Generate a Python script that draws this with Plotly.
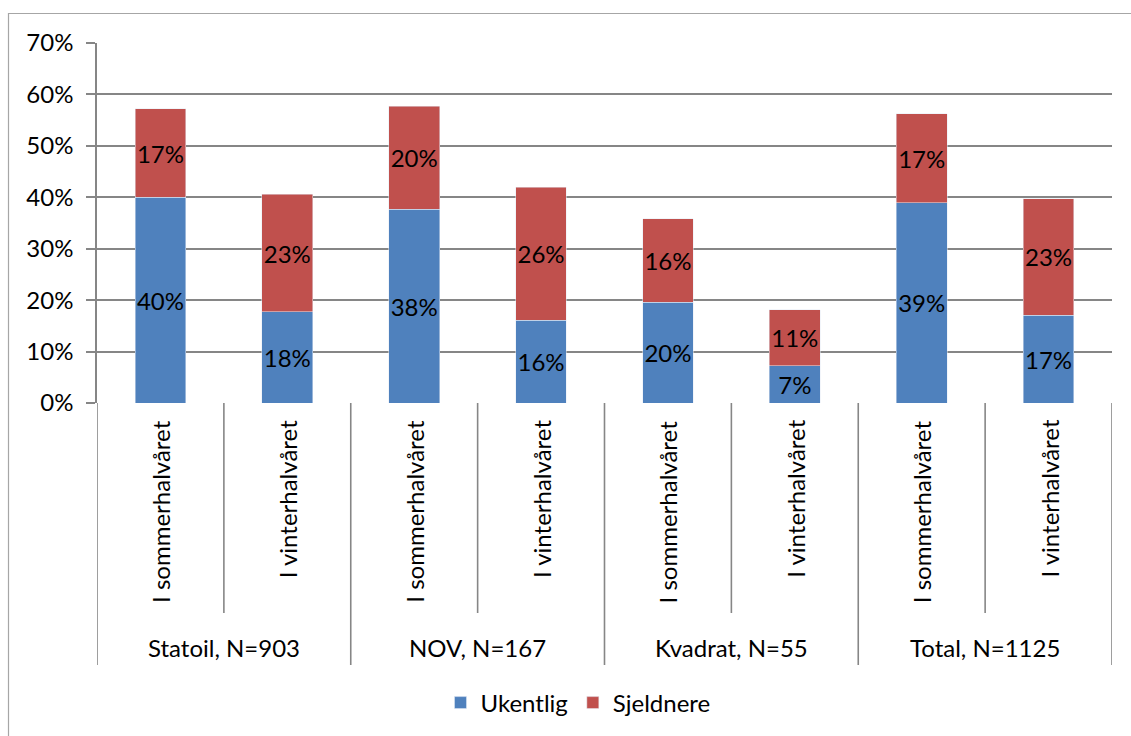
import plotly.graph_objects as go

groups = ["Statoil, N=903", "NOV, N=167", "Kvadrat, N=55", "Total, N=1125"]
seasons = ["I sommerhalvåret", "I vinterhalvåret"]
ukentlig = [40.0, 17.7, 37.7, 16.1, 19.6, 7.2, 38.9, 17.1]
sjeldnere = [17.2, 22.9, 20.0, 25.9, 16.2, 10.9, 17.3, 22.6]
yticks = [0, 10, 20, 30, 40, 50, 60, 70]

FONT = "Lato"
FS = 24
W, H = 1131, 736
L, R, T, B = 97, 19, 43, 333
PH = H - T - B

def py(p):
    return (H - B - p) / PH

def px(p):
    return (p - L) / (W - L - R)

x = list(range(len(ukentlig)))
sub_labels = [s for g in groups for s in seasons]

fig = go.Figure()
fig.add_trace(go.Bar(x=x, y=ukentlig, name="Ukentlig", marker_color="#4F81BD",
                     width=0.4, text=ukentlig, texttemplate="%{y:.0f}%",
                     textposition="inside", insidetextanchor="middle",
                     constraintext="none", textangle=0,
                     insidetextfont=dict(color="black", size=FS, family=FONT)))
fig.add_trace(go.Bar(x=x, y=sjeldnere, name="Sjeldnere", marker_color="#C0504D",
                     width=0.4, text=sjeldnere, texttemplate="%{y:.0f}%",
                     textposition="inside", insidetextanchor="middle",
                     constraintext="none", textangle=0,
                     insidetextfont=dict(color="black", size=FS, family=FONT)))

shapes = []
grid = "#868686"
LW = 1.6
# sub dividers
for i in range(len(groups)):
    xv = 2 * i + 0.5
    shapes.append(dict(type="line", xref="x", yref="paper", x0=xv, x1=xv,
                       y0=0, y1=py(613), line=dict(color=grid, width=LW)))
# group dividers
for i in range(len(groups) + 1):
    xv = 2 * i - 0.5
    shapes.append(dict(type="line", xref="x", yref="paper", x0=xv, x1=xv,
                       y0=0, y1=py(665), line=dict(color=grid, width=LW)))
# outer border
shapes.append(dict(type="rect", xref="paper", yref="paper", x0=px(8.5), x1=px(1200),
                   y0=py(800), y1=py(13.5), line=dict(color="#A6A6A6", width=1.2),
                   fillcolor="rgba(0,0,0,0)", layer="below"))

annotations = []
for i, s in enumerate(sub_labels):
    annotations.append(dict(x=i, y=py(418), xref="x", yref="paper", text=s,
                            textangle=-90, showarrow=False, xanchor="center",
                            yanchor="top", font=dict(family=FONT, size=FS, color="black")))
for i, g in enumerate(groups):
    annotations.append(dict(x=2 * i + 0.5, y=py(647), xref="x", yref="paper", text=g,
                            showarrow=False, xanchor="center", yanchor="middle",
                            font=dict(family=FONT, size=FS, color="black")))

fig.update_layout(
    width=W, height=H, margin=dict(l=L, r=R, t=T, b=B, autoexpand=False),
    paper_bgcolor="white", plot_bgcolor="white",
    barmode="stack",
    font=dict(family=FONT, size=FS, color="black"),
    xaxis=dict(range=[-0.5, 7.5], showticklabels=False, showgrid=False,
               zeroline=False, showline=False, ticks=""),
    yaxis=dict(range=[0, 70], tickvals=yticks, ticktext=[f"{v}%" for v in yticks],
               showgrid=True, gridcolor=grid, gridwidth=LW, zeroline=False,
               showline=True, linecolor=grid, linewidth=LW,
               ticks="outside", ticklen=9, tickcolor=grid, tickwidth=LW,
               ticklabelstandoff=8, tickfont=dict(family=FONT, size=FS, color="black")),
    showlegend=True,
    legend=dict(orientation="h", x=px(578), y=py(703), xanchor="center", yanchor="middle",
                font=dict(family=FONT, size=FS, color="black"), itemwidth=30,
                traceorder="normal"),
    shapes=shapes, annotations=annotations,
)

fig.write_html("out.html")
